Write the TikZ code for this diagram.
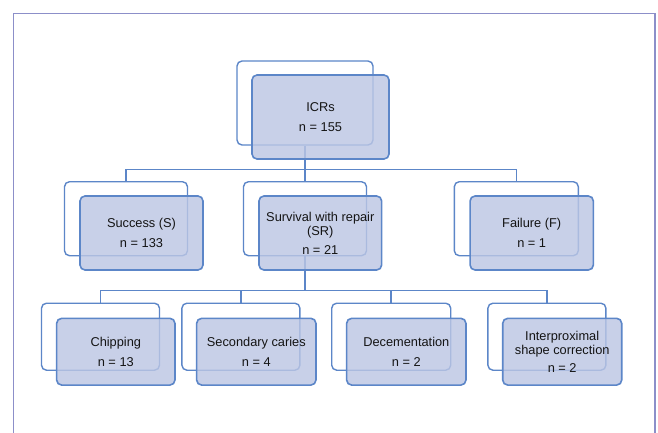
\documentclass[tikz,border=0pt]{standalone}
\usepackage{fontspec}
\setmainfont{Liberation Sans}
\definecolor{framecol}{RGB}{140,143,201}
\definecolor{linecol}{RGB}{92,134,200}
\definecolor{fillcol}{RGB}{188,198,228}
\definecolor{txtcol}{RGB}{20,20,20}
\begin{document}
\begin{tikzpicture}[x=1pt,y=-1pt,
  backbox/.style={draw=linecol, line width=1.4pt, rounded corners=5pt, fill=white, inner sep=0pt},
  frontbox/.style={draw=linecol, line width=1.6pt, rounded corners=5pt, fill=fillcol, fill opacity=0.82, text opacity=1, inner sep=0pt, align=center, text=txtcol, font=\fontsize{12.8}{14.5}\selectfont},
  conn/.style={draw=linecol, line width=1.5pt}]
\useasboundingbox (0,0) rectangle (658,433);
\fill[white] (0,0) rectangle (658,433);
\draw[framecol, line width=1.6pt] (13.5,440) -- (13.5,13.5) -- (655,13.5) -- (655,440);
% back boxes
\node[backbox, minimum width=136pt, minimum height=84pt] (icrb) at (305,103) {};
\node[backbox, minimum width=123pt, minimum height=74pt] (sb) at (126,218.7) {};
\node[backbox, minimum width=123pt, minimum height=74pt] (srb) at (305,218.7) {};
\node[backbox, minimum width=124pt, minimum height=74pt] (fb) at (516.3,218.7) {};
\node[backbox, minimum width=118pt, minimum height=67pt] (chb) at (100.5,336.7) {};
\node[backbox, minimum width=118pt, minimum height=67pt] (scb) at (240.9,336.7) {};
\node[backbox, minimum width=119pt, minimum height=67pt] (deb) at (391.2,336.7) {};
\node[backbox, minimum width=118pt, minimum height=67pt] (ipb) at (546.9,336.7) {};
% connectors
\coordinate (bus1) at (305,169.3);
\coordinate (bus2) at (305,290.7);
\draw[conn] (icrb.south) -- (bus1);
\draw[conn] (sb.north) |- (bus1) -| (fb.north);
\draw[conn] (bus1) -- (srb.north);
\draw[conn] (srb.south) -- (bus2);
\draw[conn] (chb.north) |- (bus2) -| (ipb.north);
\draw[conn] (scb.north) -- (scb.north |- bus2);
\draw[conn] (deb.north) -- (deb.north |- bus2);
% front boxes
\node[frontbox, minimum width=137pt, minimum height=84pt] (icr) at (320.5,117) {ICRs\\[5pt]n = 155};
\node[frontbox, minimum width=123pt, minimum height=74pt] (s) at (141.5,233) {Success (S)\\[5pt]n = 133};
\node[frontbox, minimum width=122.7pt, minimum height=74pt] (sr) at (320.3,233) {Survival with repair\\(SR)\\[4pt]n = 21};
\node[frontbox, minimum width=123.3pt, minimum height=74pt] (f) at (531.7,233) {Failure (F)\\[5pt]n = 1};
\node[frontbox, minimum width=118.3pt, minimum height=66.7pt] (ch) at (115.8,351.7) {Chipping\\[5pt]n = 13};
\node[frontbox, minimum width=119.3pt, minimum height=66.7pt] (sc) at (256.3,351.7) {Secondary caries\\[5pt]n = 4};
\node[frontbox, minimum width=119.3pt, minimum height=66.7pt] (de) at (406.3,351.7) {Decementation\\[5pt]n = 2};
\node[frontbox, minimum width=119pt, minimum height=66.7pt] (ip) at (562.2,351.7) {Interproximal\\shape correction\\[3pt]n = 2};
\end{tikzpicture}
\end{document}
